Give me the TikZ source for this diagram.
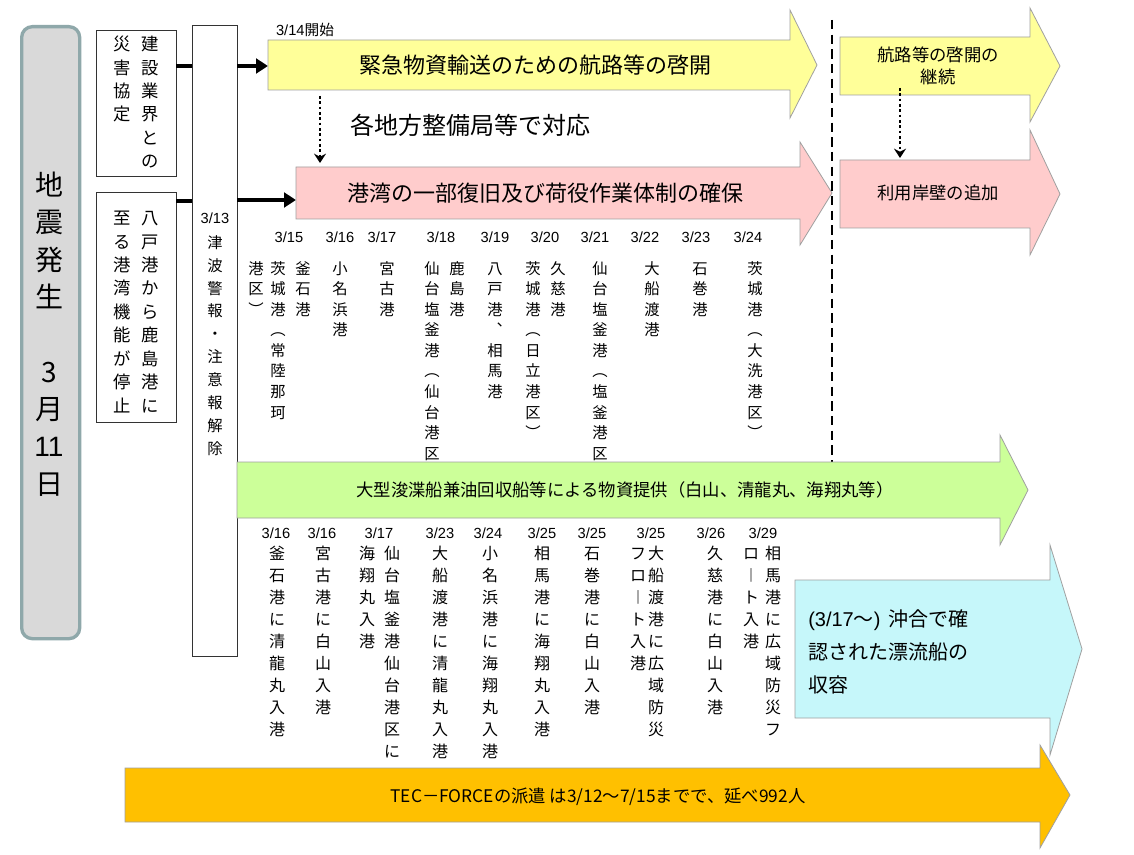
\documentclass[tikz,border=0pt]{standalone}
\usepackage{fontspec}
\setmainfont{Noto Sans CJK JP}
\newfontfamily\lat{Liberation Sans}
\usetikzlibrary{arrows.meta}
\definecolor{cyel}{HTML}{FFFF99}
\definecolor{cpink}{HTML}{FFCCCC}
\definecolor{cgreen}{HTML}{CCFF99}
\definecolor{ccyan}{HTML}{C6F7FA}
\definecolor{corange}{HTML}{FFC000}
\definecolor{cgrayb}{HTML}{8FA8AA}
\definecolor{cbord}{HTML}{A0A0A0}
\def\vtEnd{\vtEnd}
\def\vtEndM{\vtEnd}
\newlength\vtsp
\def\vtB#1{\hbox to 1.2em{\hss\vrule height .78\vtsp depth .22\vtsp width 0pt #1\hss}}
\def\vtA#1{\def\vttmp{#1}\ifx\vttmp\vtEndM\else\vtB{#1}\expandafter\vtA\fi}
\newcommand\vtcol[2]{\vbox{\offinterlineskip\setlength\vtsp{#1}\vtA#2\vtEnd}}
% #1 font size, #2 spacing, #3 name, #4 x, #5 y(top), #6 chars
\newcommand\vtnode[6]{\node[inner sep=0,anchor=north,font=\fontsize{#1}{#1}\selectfont] (#3) at (#4,#5) {\vtcol{#2}{#6}};}
\newcommand\bigarrow[8]{\filldraw[fill=#8,draw=cbord,line width=0.6pt] (#1,#2)--(#4,#2)--(#4,#5)--(#7,{(#2+#3)/2})--(#4,#6)--(#4,#3)--(#1,#3)--cycle;}
\tikzset{box/.style={draw=black!80,line width=0.8pt,fill=white,inner sep=0,anchor=north west},
 conn/.style={line width=3pt},
 arr/.style={line width=2.5pt,-{Triangle[length=9pt,width=11pt]}},
 dotarr/.style={line width=2pt,dotted,-{Stealth[length=7pt,width=9pt]}},
 date/.style={font=\lat\fontsize{11pt}{11pt}\selectfont,inner sep=0}}
\begin{document}
\begin{tikzpicture}[x=0.75pt,y=-0.75pt]
\useasboundingbox (0,0) rectangle (1134,855);
\fill[white] (0,0) rectangle (1134,855);
% left big
\node[draw=cgrayb,fill=black!15,line width=2.5pt,rounded corners=8pt,minimum width=43.5pt,minimum height=459pt,anchor=north west,inner sep=0] (quake) at (20,25) {};
\vtnode{21pt}{28pt}{qt}{49}{166}{地震発生{}3月{\lat 11}日}
% boxes
\node[box,minimum width=60pt,minimum height=109.5pt] (b1) at (96,30) {};
\node[box,minimum width=60pt,minimum height=172.5pt] (b2) at (96,192) {};
\node[box,minimum width=33.75pt,minimum height=473pt] (tall) at (192,25) {};
\vtnode{13pt}{17.6pt}{b1a}{150}{32}{建設業界との}
\vtnode{13pt}{17.6pt}{b1b}{122}{32}{災害協定}
\vtnode{13pt}{17.6pt}{b2a}{150}{206}{八戸港から鹿島港に}
\vtnode{13pt}{17.6pt}{b2b}{122}{206}{至る港湾機能が停止}
\node[date] (d313) at (215,218) {3/13};
\vtnode{11.5pt}{17.2pt}{tt}{215}{230}{津波警報・注意報解除}
% connectors
\coordinate (c1a) at (176,66); \coordinate (c1b) at (192,66);
\coordinate (c2a) at (176,201); \coordinate (c2b) at (192,201);
\coordinate (c3a) at (237,66); \coordinate (c3b) at (268,66);
\coordinate (c4a) at (237,200); \coordinate (c4b) at (296,200);
\draw[conn] (c1a)--(c1b); \draw[conn] (c2a)--(c2b);
\draw[arr] (c3a)--(c3b); \draw[arr] (c4a)--(c4b);
% top arrows
\bigarrow{268}{40}{90}{790}{10}{118}{817}{cyel}
\node[font=\fontsize{16.5pt}{16.5pt}\selectfont] (ya) at (535,65) {緊急物資輸送のための航路等の啓開};
\node[font=\lat\fontsize{11pt}{11pt}\selectfont,inner sep=0] (s314) at (305,30) {3/14\normalfont 開始};
\coordinate (d1a) at (320,96); \coordinate (d1b) at (320,163);
\draw[dotarr] (d1a)--(d1b);
\node[font=\fontsize{18pt}{18pt}\selectfont,anchor=west,inner sep=0] (kaku) at (350,125) {各地方整備局等で対応};
\bigarrow{296}{167}{219}{800}{142}{245}{832}{cpink}
\node[font=\fontsize{16.5pt}{16.5pt}\selectfont] (pa) at (545,193) {港湾の一部復旧及び荷役作業体制の確保};
\draw[line width=2pt,dash pattern=on 7pt off 4pt] (832,20)--(832,518);
\bigarrow{840}{37}{95}{1030}{8}{122}{1060}{cyel}
\node[font=\fontsize{13pt}{16pt}\selectfont,align=center] (yb) at (938,66) {航路等の啓開の\\継続};
\coordinate (d2a) at (900,88); \coordinate (d2b) at (900,158);
\draw[dotarr] (d2a)--(d2b);
\bigarrow{840}{160}{228}{1030}{130}{255}{1060}{cpink}
\node[font=\fontsize{13pt}{13pt}\selectfont] (pb) at (938,193) {利用岸壁の追加};
% top dates
\foreach \d/\x [count=\i] in {{3/15}/289,{3/16}/340,{3/17}/382,{3/18}/441,{3/19}/495,{3/20}/545,{3/21}/595,{3/22}/645,{3/23}/696,{3/24}/748}
  \node[date] (td\i) at (\x,237) {\d};
\def\tf{11.5pt}\def\ts{15.4pt}\def\ty{258}
\vtnode{\tf}{\ts}{t1a}{256}{\ty}{港区︶}
\vtnode{\tf}{\ts}{t1b}{278}{\ty}{茨城港︵常陸那珂}
\vtnode{\tf}{\ts}{t1c}{303}{\ty}{釜石港}
\vtnode{\tf}{\ts}{t2}{340}{\ty}{小名浜港}
\vtnode{\tf}{\ts}{t3}{387}{\ty}{宮古港}
\vtnode{\tf}{\ts}{t4a}{432}{\ty}{仙台塩釜港︵仙台港区}
\vtnode{\tf}{\ts}{t4b}{457}{\ty}{鹿島港}
\vtnode{\tf}{\ts}{t5}{495}{\ty}{八戸港︑相馬港}
\vtnode{\tf}{\ts}{t6a}{533}{\ty}{茨城港︵日立港区︶}
\vtnode{\tf}{\ts}{t6b}{558}{\ty}{久慈港}
\vtnode{\tf}{\ts}{t7}{600}{\ty}{仙台塩釜港︵塩釜港区}
\vtnode{\tf}{\ts}{t8}{652}{\ty}{大船渡港}
\vtnode{\tf}{\ts}{t9}{700}{\ty}{石巻港}
\vtnode{\tf}{\ts}{t10}{755}{\ty}{茨城港︵大洗港区︶}
% green arrow
\bigarrow{237}{462}{518}{1000}{435}{545}{1028}{cgreen}
\node[font=\fontsize{13pt}{13pt}\selectfont] (ga) at (625,490) {大型浚渫船兼油回収船等による物資提供（白山、清龍丸、海翔丸等）};
% bottom dates
\foreach \d/\x [count=\i] in {{3/16}/276,{3/16}/322,{3/17}/379,{3/23}/440,{3/24}/488,{3/25}/542,{3/25}/592,{3/25}/651,{3/26}/711,{3/29}/763}
  \node[date] (bd\i) at (\x,533) {\d};
\def\bf{12pt}\def\bs{16.5pt}\def\by{542}
\vtnode{\bf}{\bs}{u1}{277}{\by}{釜石港に清龍丸入港}
\vtnode{\bf}{\bs}{u2}{323}{\by}{宮古港に白山入港}
\vtnode{\bf}{\bs}{u3a}{367}{\by}{海翔丸入港}
\vtnode{\bf}{\bs}{u3b}{392}{\by}{仙台塩釜港仙台港区に}
\vtnode{\bf}{\bs}{u4}{440}{\by}{大船渡港に清龍丸入港}
\vtnode{\bf}{\bs}{u5}{490}{\by}{小名浜港に海翔丸入港}
\vtnode{\bf}{\bs}{u6}{542}{\by}{相馬港に海翔丸入港}
\vtnode{\bf}{\bs}{u7}{592}{\by}{石巻港に白山入港}
\vtnode{\bf}{\bs}{u8a}{638}{\by}{フロ︱ト入港}
\vtnode{\bf}{\bs}{u8b}{656}{\by}{大船渡港に広域防災}
\vtnode{\bf}{\bs}{u9}{715}{\by}{久慈港に白山入港}
\vtnode{\bf}{\bs}{u10a}{751}{\by}{ロ︱ト入港}
\vtnode{\bf}{\bs}{u10b}{773}{\by}{相馬港に広域防災フ}
% cyan arrow
\bigarrow{795}{580}{718}{1050}{545}{755}{1082}{ccyan}
\node[font=\fontsize{15pt}{24.5pt}\selectfont,align=left,anchor=west,inner sep=0] (ca) at (808,652) {{\lat (3/17}～{\lat )}\, 沖合で確\\認された漂流船の\\収容};
% orange arrow
\bigarrow{125}{768}{822}{1040}{745}{848}{1070}{corange}
\node[font=\fontsize{13pt}{13pt}\selectfont] (oa) at (598,797) {TEC－FORCEの派遣 は3/12～7/15までで、延べ992人};
\end{tikzpicture}
\end{document}
